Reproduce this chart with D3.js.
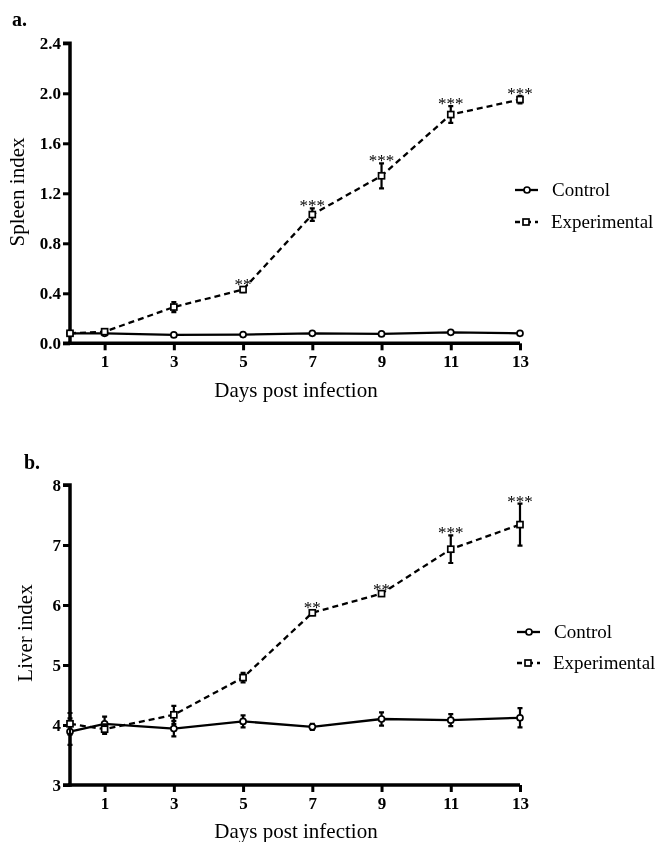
<!DOCTYPE html>
<html><head><meta charset="utf-8">
<script src="https://cdn.jsdelivr.net/npm/d3@7/dist/d3.min.js"></script>
<style>body{margin:0;background:#fff}svg{display:block;will-change:transform}svg text{font-family:"Liberation Serif","Times New Roman",Times,serif;-webkit-font-smoothing:antialiased}</style>
</head><body>
<svg id="c" width="655" height="842"></svg>
<script>
const days = [0, 1, 3, 5, 7, 9, 11, 13];
const xTicks = [1, 3, 5, 7, 9, 11, 13];

const spleenControl = [0.08, 0.08, 0.067, 0.07, 0.08, 0.075, 0.088, 0.08];
const spleenControlErr = [0.01, 0.01, 0.01, 0.01, 0.01, 0.01, 0.01, 0.01];
const spleenExp = [0.08, 0.093, 0.29, 0.43, 1.03, 1.34, 1.83, 1.95];
const spleenExpErr = [0.01, 0.02, 0.04, 0.02, 0.05, 0.10, 0.067, 0.03];
const spleenStars = ["", "", "", "**", "***", "***", "***", "***"];
const spleenTicks = [0.0, 0.4, 0.8, 1.2, 1.6, 2.0, 2.4];

const liverControl = [3.89, 4.02, 3.94, 4.06, 3.97, 4.10, 4.08, 4.12];
const liverControlErr = [0.22, 0.12, 0.13, 0.10, 0.05, 0.11, 0.10, 0.16];
const liverExp = [4.02, 3.93, 4.17, 4.79, 5.87, 6.19, 6.93, 7.34];
const liverExpErr = [0.18, 0.08, 0.15, 0.08, 0.04, 0.03, 0.23, 0.35];
const liverStars = ["", "", "", "", "**", "**", "***", "***"];
const liverTicks = [3, 4, 5, 6, 7, 8];

const svg = d3.select("#c");

function panel(o) {
  const x = d3.scaleLinear().domain([0, 13]).range([70, 520]);
  const y = d3.scaleLinear().domain(o.ydom).range([o.y0, o.y1]);
  const g = svg.append("g");

  g.append("text").attr("x", o.letterX).attr("y", o.letterY).text(o.letter)
    .style("font-weight", "bold").style("font-size", "20px");

  const ya = d3.axisLeft(y).tickValues(o.ticks).tickSize(7).tickPadding(2).tickFormat(o.fmt);
  const yg = g.append("g").attr("transform", "translate(70,0)").call(ya);
  const xa = d3.axisBottom(x).tickValues(xTicks).tickSize(7).tickPadding(5).tickFormat(d3.format("d"));
  const xg = g.append("g").attr("transform", `translate(0,${o.y0})`).call(xa);
  [yg, xg].forEach(a => {
    a.attr("font-family", null);
    a.select(".domain").attr("stroke", "#000").attr("stroke-width", 3.5);
    a.selectAll(".tick line").attr("stroke", "#000").attr("stroke-width", 3);
    a.selectAll(".tick text").style("font-weight", "bold")
      .style("font-size", "17px").attr("fill", "#000");
  });
  yg.select(".domain").attr("d", `M-7,${y.range()[1]}H0V${y.range()[0]}H-7`);
  xg.select(".domain").attr("d", `M${x.range()[0] - 2},0H${x.range()[1]}`);

  g.append("text").attr("x", 296).attr("y", o.xTitleY).attr("text-anchor", "middle")
    .style("font-size", "21px").text("Days post infection");
  g.append("text").attr("transform", `translate(${o.yTitleX},${o.yTitleY}) rotate(-90)`)
    .attr("text-anchor", "middle").style("font-size", "21px").text(o.yTitle);

  const line = d3.line().x((d, i) => x(days[i])).y(d => y(d));

  function series(vals, errs, dashed, marker) {
    g.append("path").datum(vals).attr("d", line).attr("fill", "none").attr("stroke", "#000")
      .attr("stroke-width", 2.3).attr("stroke-dasharray", dashed ? "6,4" : null);
    vals.forEach((v, i) => {
      const cx = x(days[i]), top = y(v + errs[i]), bot = y(v - errs[i]);
      g.append("path").attr("d", `M${cx},${top}V${bot}M${cx - 2.5},${top}H${cx + 2.5}M${cx - 2.5},${bot}H${cx + 2.5}`)
        .attr("stroke", "#000").attr("stroke-width", 2.2).attr("fill", "none");
    });
    vals.forEach((v, i) => {
      const cx = x(days[i]), cy = y(v);
      if (marker === "circle") {
        g.append("circle").attr("cx", cx).attr("cy", cy).attr("r", 3)
          .attr("fill", "#fff").attr("stroke", "#000").attr("stroke-width", 1.7);
      } else {
        g.append("rect").attr("x", cx - 3).attr("y", cy - 3).attr("width", 6).attr("height", 6)
          .attr("fill", "#fff").attr("stroke", "#000").attr("stroke-width", 1.7);
      }
    });
  }
  series(o.ctrl, o.ctrlErr, false, "circle");
  series(o.exp, o.expErr, true, "square");

  o.stars.forEach((s, i) => {
    if (!s) return;
    g.append("text").attr("x", x(days[i])).attr("y", y(o.exp[i] + o.expErr[i]) + 3)
      .attr("text-anchor", "middle").style("font-size", "17px").attr("fill", "#000").text(s);
  });

  const lx = o.legX, ly1 = o.legY1, ly2 = o.legY2;
  g.append("path").attr("d", `M${lx},${ly1}H${lx + 23}`).attr("stroke", "#000").attr("stroke-width", 2.3);
  g.append("circle").attr("cx", lx + 12).attr("cy", ly1).attr("r", 3).attr("fill", "#fff")
    .attr("stroke", "#000").attr("stroke-width", 1.7);
  g.append("text").attr("x", lx + 37).attr("y", ly1 + 6).style("font-size", "19px").text("Control");
  g.append("path").attr("d", `M${lx},${ly2}H${lx + 23}`).attr("stroke", "#000").attr("stroke-width", 2.3)
    .attr("stroke-dasharray", "5,4,0,4,3,4");
  g.append("rect").attr("x", lx + 8).attr("y", ly2 - 3).attr("width", 6).attr("height", 6)
    .attr("fill", "#fff").attr("stroke", "#000").attr("stroke-width", 1.7);
  g.append("text").attr("x", lx + 36).attr("y", ly2 + 6).style("font-size", "19px").text("Experimental");
}

panel({
  letter: "a.", letterX: 12, letterY: 26,
  ydom: [0, 2.4], y0: 343.3, y1: 43.3, ticks: spleenTicks, fmt: d3.format(".1f"),
  yTitle: "Spleen index", yTitleX: 24, yTitleY: 192, xTitleY: 397,
  ctrl: spleenControl, ctrlErr: spleenControlErr, exp: spleenExp, expErr: spleenExpErr,
  stars: spleenStars, legX: 515, legY1: 190, legY2: 222
});
panel({
  letter: "b.", letterX: 24, letterY: 469,
  ydom: [3, 8], y0: 785, y1: 485, ticks: liverTicks, fmt: d3.format("d"),
  yTitle: "Liver index", yTitleX: 32, yTitleY: 633, xTitleY: 838,
  ctrl: liverControl, ctrlErr: liverControlErr, exp: liverExp, expErr: liverExpErr,
  stars: liverStars, legX: 517, legY1: 632, legY2: 663
});
</script>
</body></html>
